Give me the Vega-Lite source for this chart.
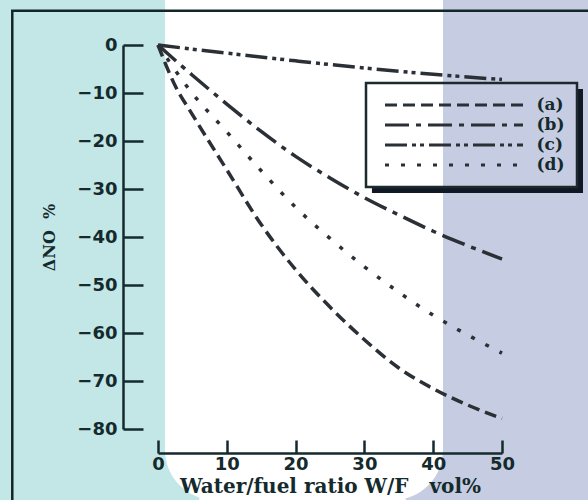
{
  "$schema": "https://vega.github.io/schema/vega-lite/v6.json",
  "width": 344,
  "height": 384,
  "autosize": {"type": "none"},
  "padding": {"left": 158, "top": 45, "right": 86, "bottom": 71},
  "background": "#ffffff",
  "config": {
    "view": {"stroke": null},
    "legend": {"strokeWidth": 2.5}
  },
  "layer": [
    {
      "data": {"values": [{}]},
      "mark": {"type": "rect", "color": "#c3e7e7"},
      "encoding": {
        "x": {"datum": -25, "type": "quantitative", "scale": {"domain": [0, 50], "nice": false, "zero": false}},
        "x2": {"datum": 6},
        "y": {"datum": 12, "type": "quantitative", "scale": {"domain": [-80, 0], "nice": false, "zero": false}},
        "y2": {"datum": -97}
      }
    },
    {
      "data": {"values": [{}]},
      "mark": {"type": "rect", "color": "#c6cde2"},
      "encoding": {
        "x": {"datum": 36, "type": "quantitative", "scale": {"domain": [0, 50], "nice": false, "zero": false}},
        "x2": {"datum": 66},
        "y": {"datum": 12, "type": "quantitative", "scale": {"domain": [-80, 0], "nice": false, "zero": false}},
        "y2": {"datum": -97}
      }
    },
    {
      "data": {"values": [{}]},
      "mark": {"type": "rect", "color": "#ffffff", "cornerRadiusBottomLeft": 50, "cornerRadiusBottomRight": 50},
      "encoding": {
        "x": {"datum": 1.02, "type": "quantitative", "scale": {"domain": [0, 50], "nice": false, "zero": false}},
        "x2": {"datum": 41.42},
        "y": {"datum": 12, "type": "quantitative", "scale": {"domain": [-80, 0], "nice": false, "zero": false}},
        "y2": {"datum": -94.79}
      }
    },
    {
      "data": {"values": [{}]},
      "mark": {"type": "rect", "filled": false, "stroke": "#122628", "strokeWidth": 2.5},
      "encoding": {
        "x": {"datum": -21.18, "type": "quantitative", "scale": {"domain": [0, 50], "nice": false, "zero": false}},
        "x2": {"datum": 70},
        "y": {"datum": 7.15, "type": "quantitative", "scale": {"domain": [-80, 0], "nice": false, "zero": false}},
        "y2": {"datum": -100}
      }
    },
    {
      "data": {"values": [{}]},
      "mark": {"type": "rule", "color": "#101826", "strokeWidth": 6, "strokeCap": "butt"},
      "encoding": {
        "x": {"datum": 31.1, "type": "quantitative", "scale": {"domain": [0, 50], "nice": false, "zero": false}},
        "x2": {"datum": 61.77},
        "y": {"datum": -30.21, "type": "quantitative", "scale": {"domain": [-80, 0], "nice": false, "zero": false}}
      }
    },
    {
      "data": {"values": [{}]},
      "mark": {"type": "rule", "color": "#101826", "strokeWidth": 6, "strokeCap": "butt"},
      "encoding": {
        "x": {"datum": 61.34, "type": "quantitative", "scale": {"domain": [0, 50], "nice": false, "zero": false}},
        "y": {"datum": -9.17, "type": "quantitative", "scale": {"domain": [-80, 0], "nice": false, "zero": false}},
        "y2": {"datum": -30.83}
      }
    },
    {
      "data": {
        "values": [
          {"series": "(a)", "wf": 0, "dno": 0},
          {"series": "(a)", "wf": 2.5, "dno": -8.5},
          {"series": "(a)", "wf": 5, "dno": -14.5},
          {"series": "(a)", "wf": 10, "dno": -26},
          {"series": "(a)", "wf": 15, "dno": -37.4},
          {"series": "(a)", "wf": 20, "dno": -46.8},
          {"series": "(a)", "wf": 25, "dno": -54.6},
          {"series": "(a)", "wf": 30, "dno": -61.4},
          {"series": "(a)", "wf": 35, "dno": -67.3},
          {"series": "(a)", "wf": 40, "dno": -71.6},
          {"series": "(a)", "wf": 45, "dno": -75},
          {"series": "(a)", "wf": 50, "dno": -77.8},
          {"series": "(b)", "wf": 0, "dno": 0},
          {"series": "(b)", "wf": 5, "dno": -6.3},
          {"series": "(b)", "wf": 10, "dno": -12.3},
          {"series": "(b)", "wf": 15, "dno": -18},
          {"series": "(b)", "wf": 20, "dno": -23.2},
          {"series": "(b)", "wf": 25, "dno": -27.7},
          {"series": "(b)", "wf": 30, "dno": -31.8},
          {"series": "(b)", "wf": 35, "dno": -35.4},
          {"series": "(b)", "wf": 40, "dno": -38.8},
          {"series": "(b)", "wf": 45, "dno": -41.8},
          {"series": "(b)", "wf": 50, "dno": -44.6},
          {"series": "(c)", "wf": 0, "dno": 0},
          {"series": "(c)", "wf": 10, "dno": -1.7},
          {"series": "(c)", "wf": 20, "dno": -3.3},
          {"series": "(c)", "wf": 30, "dno": -4.8},
          {"series": "(c)", "wf": 40, "dno": -6.1},
          {"series": "(c)", "wf": 50, "dno": -7.2},
          {"series": "(d)", "wf": 0, "dno": 0},
          {"series": "(d)", "wf": 5, "dno": -10.1},
          {"series": "(d)", "wf": 10, "dno": -18.1},
          {"series": "(d)", "wf": 15, "dno": -26.2},
          {"series": "(d)", "wf": 20, "dno": -33.8},
          {"series": "(d)", "wf": 25, "dno": -40.3},
          {"series": "(d)", "wf": 30, "dno": -46.2},
          {"series": "(d)", "wf": 35, "dno": -51.5},
          {"series": "(d)", "wf": 40, "dno": -56.3},
          {"series": "(d)", "wf": 45, "dno": -60.4},
          {"series": "(d)", "wf": 50, "dno": -64.2}
        ]
      },
      "mark": {"type": "line", "interpolate": "monotone", "color": "#2b2f36", "strokeWidth": 3.5, "strokeCap": "butt"},
      "encoding": {
        "x": {
          "field": "wf", "type": "quantitative",
          "scale": {"domain": [0, 50], "nice": false, "zero": false},
          "axis": {
            "orient": "bottom", "offset": 24, "values": [0, 10, 20, 30, 40, 50],
            "grid": false, "zindex": 1,
            "domainColor": "#142a2c", "domainWidth": 2.5,
            "tickColor": "#142a2c", "tickWidth": 2.5, "tickSize": -13,
            "labelFont": "DejaVu Sans", "labelFontWeight": "bold", "labelFontSize": 18,
            "labelColor": "#142a2c", "labelPadding": 15, "labelFlush": false, "labelOverlap": false,
            "title": "Water/fuel ratio W/F\u00a0\u00a0\u00a0vol%",
            "titleFont": "DejaVu Serif", "titleFontWeight": "bold", "titleFontSize": 20,
            "titleColor": "#142a2c", "titlePadding": 3
          }
        },
        "y": {
          "field": "dno", "type": "quantitative",
          "scale": {"domain": [-80, 0], "nice": false, "zero": false},
          "axis": {
            "orient": "left", "offset": 35, "values": [0, -10, -20, -30, -40, -50, -60, -70, -80],
            "grid": false, "zindex": 1,
            "domainColor": "#142a2c", "domainWidth": 2.5,
            "tickColor": "#142a2c", "tickWidth": 2.5, "tickSize": -20,
            "labelFont": "DejaVu Sans", "labelFontWeight": "bold", "labelFontSize": 18,
            "labelColor": "#142a2c", "labelPadding": 26, "labelFlush": false, "labelOverlap": false,
            "title": "ΔNO\u00a0 %",
            "titleFont": "DejaVu Serif", "titleFontWeight": "bold", "titleFontSize": 16,
            "titleColor": "#142a2c", "titlePadding": 19
          }
        },
        "strokeDash": {
          "field": "series", "type": "nominal",
          "scale": {
            "domain": ["(a)", "(b)", "(c)", "(d)"],
            "range": [[12, 6], [24, 7, 5, 7], [22, 5, 4, 4, 4, 5], [4, 12]]
          },
          "legend": {
            "orient": "none", "legendX": 208, "legendY": 38, "title": null,
            "padding": 12, "strokeColor": "#1c2a2c", "clipHeight": 20, "rowPadding": 0,
            "symbolType": "stroke", "symbolSize": 19044, "symbolStrokeWidth": 3,
            "symbolStrokeColor": "#2b2f36", "symbolOffset": 5.5, "labelOffset": 12,
            "labelFont": "DejaVu Serif", "labelFontWeight": "bold", "labelFontSize": 17,
            "labelColor": "#142a2c", "zindex": 1
          }
        }
      }
    }
  ]
}
